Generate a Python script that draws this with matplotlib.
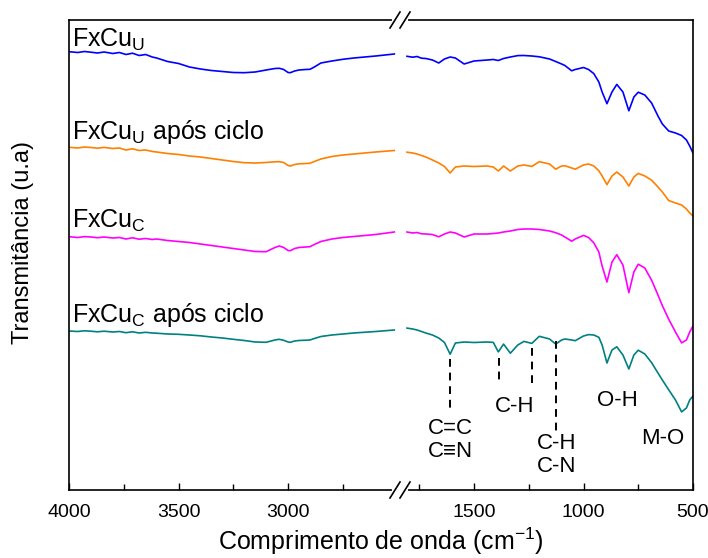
import matplotlib
matplotlib.use("Agg")
import matplotlib.pyplot as plt
from matplotlib.lines import Line2D

plt.rcParams["font.family"] = ["Liberation Sans", "DejaVu Sans"]
plt.rcParams["mathtext.fontset"] = "custom"
plt.rcParams["mathtext.rm"] = "Liberation Sans"
plt.rcParams["mathtext.it"] = "Liberation Sans:italic"
plt.rcParams["mathtext.default"] = "regular"

# wavenumbers (cm-1), high-wavenumber segment
LEFT_WN = [4000, 3960, 3930, 3900, 3870, 3840, 3800, 3770, 3740, 3710, 3680,
           3650, 3620, 3600, 3550, 3500, 3450, 3400, 3350, 3300, 3250, 3200,
           3150, 3100, 3060, 3040, 3020, 3000, 2990, 2970, 2950, 2920, 2900,
           2880, 2850, 2800, 2750, 2700, 2600, 2515]
# low-wavenumber segment
RIGHT_WN = [1806, 1780, 1760, 1740, 1720, 1690, 1661, 1635, 1609, 1585, 1545,
            1500, 1440, 1412, 1389, 1365, 1334, 1300, 1272, 1236, 1202, 1155,
            1127, 1100, 1085, 1054, 1038, 1000, 977, 953, 930, 915, 893, 870,
            848, 820, 793, 770, 750, 720, 689, 660, 640, 611, 580, 552, 530,
            515, 500]

# transmittance (a.u., already offset for stacking)
FXCU_U_LEFT = [448.3, 447.5, 448.5, 447.8, 447, 448, 446.5, 447.5, 445.5,
               446.8, 444.5, 445.5, 443, 442, 438.5, 436.5, 433, 431, 429.5,
               428.5, 427.5, 427.3, 428, 430, 431.5, 431.7, 430.5, 427.5,
               427.3, 429, 430, 430.5, 430.7, 433, 437, 439, 440.7, 442, 444,
               446]
FXCU_U_RIGHT = [443.7, 442.8, 443.5, 441.8, 441.5, 440, 437, 441, 443, 442,
                436, 439, 440, 440.5, 439.5, 441.5, 443, 444.4, 444.5, 444,
                443.2, 441, 438.5, 436, 434.5, 429.2, 430.5, 432.5, 430.5,
                426.4, 418, 408, 396.3, 408, 415.6, 408, 389.2, 403, 407.8,
                405, 397, 384, 376, 369, 367, 364.5, 360, 354, 347]

FXCU_U_CICLO_LEFT = [352.7, 352, 353, 352.5, 351.8, 352.6, 351.5, 352, 350,
                     351.2, 349.5, 350, 348.5, 348, 346.5, 345.5, 344, 343,
                     341.5, 340, 338.5, 337.3, 337, 337.5, 338.2, 338.3, 337.5,
                     334.5, 334, 335.5, 336.2, 336.5, 336.7, 338.5, 341, 343.5,
                     345, 346, 348, 349.5]
FXCU_U_CICLO_RIGHT = [347.8, 347, 346, 344.5, 343, 340, 337, 333.5, 327, 333,
                      334, 333.5, 334, 333, 329, 334, 329, 334, 335, 333.6,
                      338.3, 336, 330.8, 334, 334.2, 332, 330.8, 335, 336, 334,
                      329.2, 324, 315.4, 324, 328, 323, 314, 323, 326.6, 324,
                      319.8, 313, 308, 299.5, 297, 295, 291, 287, 284]

FXCU_C_LEFT = [263.3, 262.5, 263.4, 263, 262.3, 263, 262, 262.5, 261, 262.2,
               260.8, 261.5, 260.5, 261, 259.5, 258.5, 257.5, 256, 254.5, 253,
               251.5, 250, 248.5, 248.3, 252.5, 254, 252.5, 249.5, 249.3,
               251.5, 252.5, 253, 253.3, 255.5, 258.5, 261, 262.5, 263.5,
               265.5, 268]
FXCU_C_RIGHT = [268, 267, 267.5, 266.2, 266, 265.5, 263.2, 266, 268, 267, 263,
                266, 266, 266.5, 267, 268, 269, 270.5, 271, 271, 270.5, 269,
                267.3, 265, 263, 258.8, 261, 264.6, 262.5, 257.1, 248, 234,
                218, 238, 245.3, 235, 207.3, 228, 235.8, 232, 219.8, 205,
                194.4, 180.8, 168, 157.1, 160, 168, 174]

FXCU_C_CICLO_LEFT = [169, 168.5, 169.2, 168.8, 168.2, 168.8, 168, 168.5,
                     167.3, 168.2, 167, 167.7, 167, 166.8, 166, 165.7, 165,
                     164.2, 163, 162, 160.7, 159.5, 158, 157.7, 160, 160.7,
                     159.7, 158, 157.7, 159, 159.5, 159.8, 160, 161.5, 163.5,
                     165, 166, 167, 168.5, 170]
FXCU_C_CICLO_RIGHT = [171.9, 171, 170, 168.5, 167, 165, 162, 157.5, 145.8, 157,
                      158, 157.5, 158, 157.6, 148.1, 155.9, 146.8, 155, 158.6,
                      156.6, 163.7, 161, 155.9, 160, 161, 160, 159.3, 164,
                      165.4, 165, 162.7, 155, 137, 150, 153.2, 145, 131, 145,
                      149.8, 146, 137.3, 127, 120, 110.2, 100, 88.1, 92, 100,
                      104]

SERIES = [
    (r"FxCu$_{U}$", FXCU_U_LEFT, FXCU_U_RIGHT, "#0000FF", 453),
    (r"FxCu$_{U}$ após ciclo", FXCU_U_CICLO_LEFT, FXCU_U_CICLO_RIGHT, "#FF8000", 361),
    (r"FxCu$_{C}$", FXCU_C_LEFT, FXCU_C_RIGHT, "#FF00FF", 272),
    (r"FxCu$_{C}$ após ciclo", FXCU_C_CICLO_LEFT, FXCU_C_CICLO_RIGHT, "#008080", 178),
]

# band markers on the last spectrum: (wavenumber, top, bottom)
MARKERS = [(1609, 141, 90), (1384, 142, 119), (1233, 152, 117), (1127, 159, 68)]
BANDS = [(1609, 60, "C=C\nC≡N"), (1313, 93, "C-H"), (1121, 45, "C-H\nC-N"),
         (847, 100, "O-H"), (636, 61, "M-O")]

W, H = 708, 558
x0, xb, x1 = 69 / W, 400 / W, 693 / W
y0, y1 = 1 - 490 / H, 1 - 20 / H

fig = plt.figure(figsize=(7.08, 5.58), dpi=100)
axl = fig.add_axes([x0, y0, xb - x0, y1 - y0])
axr = fig.add_axes([xb, y0, x1 - xb, y1 - y0], sharey=axl)

for label, left, right, color, ylab in SERIES:
    axl.plot(LEFT_WN, left, color=color, lw=1.2)
    axr.plot(RIGHT_WN, right, color=color, lw=1.2)
    axl.text(3985, ylab, label, fontsize=18, va="baseline", ha="left")

for wn, top, bot in MARKERS:
    axr.plot([wn, wn], [top, bot], color="black", lw=1.4, ls=(0, (4, 3)))
for wn, yv, txt in BANDS:
    axr.text(wn, yv, txt, fontsize=16, ha="center", va="center", linespacing=1.15)

axl.set_xlim(4000, 2489)
axr.set_xlim(1838, 500)
axl.set_ylim(10, 480)

axl.set_xticks([4000, 3500, 3000])
axl.set_xticks([3750, 3250, 2750], minor=True)
axr.set_xticks([1500, 1000, 500])
axr.set_xticks([1750, 1250, 750], minor=True)
for ax in (axl, axr):
    ax.tick_params(axis="x", which="both", direction="in", labelsize=14, pad=10)
    ax.tick_params(axis="x", which="major", length=5, width=1)
    ax.tick_params(axis="x", which="minor", length=4, width=1)
    ax.tick_params(axis="y", left=False, right=False, labelleft=False)
    for s in ax.spines.values():
        s.set_linewidth(1.2)
axl.spines["right"].set_visible(False)
axr.spines["left"].set_visible(False)

axl.set_ylabel("Transmitância (u.a)", fontsize=17)
axl.yaxis.set_label_coords((34 - 69) / 331, (490 - 243) / 470)
fig.text((x0 + x1) / 2, 1 - 541 / H, "Comprimento de onda (cm$^{-1}$)",
         fontsize=18, ha="center", va="center")

# axis break marks
for yc in (y1, y0):
    fig.add_artist(Line2D([xb - 6 / W, xb + 6 / W], [yc, yc], color="white",
                          lw=3, transform=fig.transFigure))
    for dx in (-5, 5):
        fig.add_artist(Line2D([(400 + dx - 5) / W, (400 + dx + 5) / W],
                              [yc - 8 / H, yc + 8 / H], color="black", lw=1.2,
                              transform=fig.transFigure))

fig.savefig("out.png", dpi=100)
